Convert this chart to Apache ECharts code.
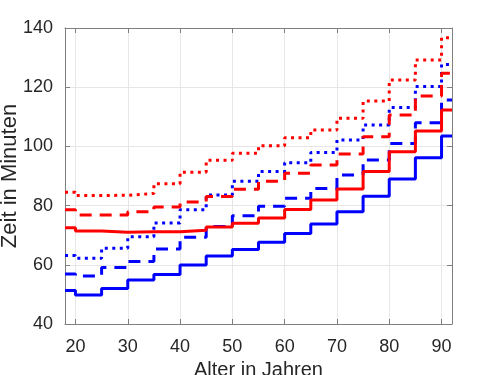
<!DOCTYPE html>
<html>
<head>
<meta charset="utf-8">
<script src="https://cdn.jsdelivr.net/npm/echarts@6/dist/echarts.min.js"></script>
<style>
  html, body { margin: 0; padding: 0; background: #fff; }
  #chart { width: 500px; height: 375px; }
</style>
</head>
<body>
<div id="chart"></div>
<script>
// Alter (Stufengrenzen)
var ages = [18, 20, 25, 30, 35, 40, 45, 50, 55, 60, 65, 70, 75, 80, 85, 90, 92];
var xTicks = [20, 30, 40, 50, 60, 70, 80, 90];

// blau
var blueSolid  = [51.3, 49.8, 52.0, 54.9, 56.7, 59.9, 63.0, 65.2, 67.6, 70.6, 73.8, 77.9, 83.2, 89.0, 96.2, 103.5, 103.5];
var blueDashed = [56.9, 56.2, 59.1, 61.1, 65.3, 69.3, 72.9, 76.6, 79.8, 82.5, 85.8, 90.3, 95.4, 101.0, 108.0, 115.7, 115.7];
var blueDotted = [63.1, 62.2, 65.6, 69.5, 74.1, 78.6, 83.6, 88.2, 91.5, 94.5, 97.9, 102.2, 107.2, 113.1, 120.2, 127.7, 127.7];

// rot
var redSolid  = [72.5, 71.4, 71.0, 71.2, 71.2, 71.7, 72.8, 74.0, 75.8, 78.7, 81.9, 85.6, 91.5, 98.2, 105.2, 112.3, 112.3];
var redDashed = [78.6, 76.8, 76.8, 77.9, 79.5, 81.2, 83.1, 85.5, 88.2, 90.9, 93.7, 97.4, 103.3, 110.6, 117.0, 124.7, 124.7];
var redDotted = [84.5, 83.4, 83.5, 84.1, 87.4, 91.3, 95.3, 97.7, 100.2, 102.9, 105.5, 109.5, 115.3, 122.4, 129.2, 136.7, 136.7];

var FONT = 'Liberation Sans';
var axisGray = '#808080';
var textColor = '#262626';

function pairs( vals )
{
	return ages.map(function( a, i ){ return [a, vals[i]]; });
}

function stepSeries( vals, color, type )
{
	return {
		type: 'line',
		step: 'end',
		symbol: 'none',
		silent: true,
		data: pairs( vals ),
		lineStyle: { color: color, width: 3, type: type, cap: 'butt' }
	};
}

var chart = echarts.init(document.getElementById('chart'));

var baseX = {
	type: 'value',
	min: 18,
	max: 92,
	axisLine: { show: true, onZero: false, lineStyle: { color: axisGray, width: 1 } },
	axisTick: { show: true, inside: true, length: 5, customValues: xTicks, lineStyle: { color: axisGray } },
	splitLine: { show: false }
};

var option = {
	animation: false,
	grid: { left: 65, right: 48, top: 28, bottom: 51, outerBoundsMode: 'none', containLabel: false },
	xAxis: [
		Object.assign({}, baseX, {
			position: 'bottom',
			name: 'Alter in Jahren',
			nameLocation: 'middle',
			nameGap: 32,
			nameTextStyle: { fontFamily: FONT, fontSize: 20, color: textColor },
			axisLabel: { customValues: xTicks, margin: 14, fontFamily: FONT, fontSize: 18, color: textColor },
			splitLine: { show: true, lineStyle: { color: '#e6e6e6', width: 1 } }
		}),
		Object.assign({}, baseX, {
			position: 'top',
			axisLabel: { show: false }
		})
	],
	yAxis: [
		{
			type: 'value',
			min: 40,
			max: 140,
			interval: 20,
			position: 'left',
			name: 'Zeit in Minuten',
			nameLocation: 'middle',
			nameGap: 44,
			nameMoveOverlap: false,
			nameTextStyle: { fontFamily: FONT, fontSize: 22, color: textColor },
			axisLine: { show: true, onZero: false, lineStyle: { color: axisGray, width: 1 } },
			axisTick: { show: true, inside: true, length: 5, lineStyle: { color: axisGray } },
			axisLabel: { margin: 12, fontFamily: FONT, fontSize: 18, color: textColor },
			splitLine: { show: true, lineStyle: { color: '#e6e6e6', width: 1 } }
		},
		{
			type: 'value',
			min: 40,
			max: 140,
			interval: 20,
			position: 'right',
			axisLine: { show: true, onZero: false, lineStyle: { color: axisGray, width: 1 } },
			axisTick: { show: true, inside: true, length: 5, lineStyle: { color: axisGray } },
			axisLabel: { show: false },
			splitLine: { show: false }
		}
	],
	series: [
		stepSeries( blueSolid, '#0000ff', 'solid' ),
		stepSeries( blueDashed, '#0000ff', [12, 8] ),
		stepSeries( blueDotted, '#0000ff', [3, 4.5] ),
		stepSeries( redSolid, '#ff0000', 'solid' ),
		stepSeries( redDashed, '#ff0000', [12, 8] ),
		stepSeries( redDotted, '#ff0000', [3, 4.5] )
	]
};

chart.setOption( option );
</script>
</body>
</html>
